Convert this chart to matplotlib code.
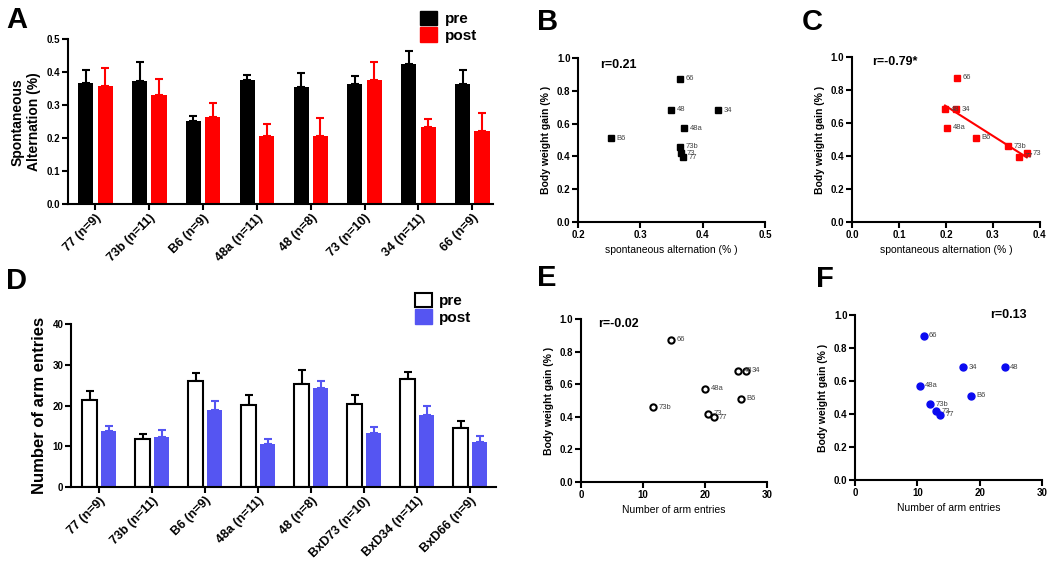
import numpy as np
import matplotlib.pyplot as plt
from matplotlib.patches import Patch

plt.rcParams['font.family'] = ['Liberation Sans', 'DejaVu Sans']

# ---- data ----
sa_groups = ['77 (n=9)', '73b (n=11)', 'B6 (n=9)', '48a (n=11)', '48 (n=8)',
             '73 (n=10)', '34 (n=11)', '66 (n=9)']
sa_pre = [0.368, 0.374, 0.253, 0.376, 0.354, 0.365, 0.425, 0.364]
sa_pre_err = [0.039, 0.056, 0.014, 0.016, 0.043, 0.023, 0.039, 0.041]
sa_post = [0.358, 0.332, 0.264, 0.206, 0.208, 0.376, 0.234, 0.221]
sa_post_err = [0.056, 0.048, 0.044, 0.036, 0.053, 0.054, 0.025, 0.056]

arm_groups = ['77 (n=9)', '73b (n=11)', 'B6 (n=9)', '48a (n=11)', '48 (n=8)',
              'BxD73 (n=10)', 'BxD34 (n=11)', 'BxD66 (n=9)']
arm_pre = [21.3, 11.7, 25.9, 20.1, 25.2, 20.3, 26.4, 14.4]
arm_pre_err = [2.3, 1.2, 2.2, 2.4, 3.5, 2.4, 1.8, 1.8]
arm_post = [13.8, 12.2, 18.9, 10.6, 24.2, 13.3, 17.6, 11.0]
arm_post_err = [1.1, 1.7, 2.1, 1.1, 1.9, 1.4, 2.2, 1.6]

# scatter: strain labels, body weight gain, x values per panel
strains = ['77', '73b', 'B6', '48a', '48', '73', '34', '66']
bw_gain = [0.396, 0.459, 0.510, 0.571, 0.684, 0.418, 0.682, 0.873]
sa_pre_sc = [0.368, 0.364, 0.253, 0.370, 0.350, 0.366, 0.425, 0.363]
sa_post_sc = [0.355, 0.332, 0.264, 0.202, 0.198, 0.372, 0.221, 0.223]
arm_pre_sc = [21.4, 11.7, 25.8, 20.1, 25.4, 20.5, 26.6, 14.5]
arm_post_sc = [13.7, 12.1, 18.6, 10.4, 24.0, 13.0, 17.4, 11.0]

RED = '#ff0000'
BLUE = '#5555f2'
DBLUE = '#0a0af0'

fig = plt.figure(figsize=(10.5, 5.64), dpi=100)


def style_axes(ax, tick_size=7):
    for s in ['top', 'right']:
        ax.spines[s].set_visible(False)
    for s in ['left', 'bottom']:
        ax.spines[s].set_linewidth(1.5)
    ax.tick_params(width=1.5, length=4, labelsize=tick_size, pad=1.5)
    for lab in ax.get_xticklabels() + ax.get_yticklabels():
        lab.set_fontweight('bold')


def bar_panel(ax, groups, pre, pre_err, post, post_err, pre_style, post_color,
              ylim, yticks, yticklabels, ylabel, ylabel_size, xlim):
    x = np.arange(len(groups))
    w = 0.28
    off = 0.18
    ax.bar(x - off, pre, w, zorder=2, **pre_style)
    ax.bar(x + off, post, w, color=post_color, zorder=2)
    ax.errorbar(x - off, pre, yerr=[np.zeros(len(pre)), pre_err], fmt='none',
                ecolor='black', elinewidth=1.5, capsize=3, capthick=1.5, zorder=1)
    ax.errorbar(x + off, post, yerr=[np.zeros(len(post)), post_err], fmt='none',
                ecolor=post_color, elinewidth=1.5, capsize=3, capthick=1.5, zorder=1)
    ax.set_xlim(*xlim)
    ax.set_ylim(*ylim)
    ax.set_yticks(yticks)
    ax.set_yticklabels(yticklabels)
    ax.set_xticks(x)
    ax.set_xticklabels(groups, rotation=45, ha='right', rotation_mode='anchor')
    ax.set_ylabel(ylabel, fontsize=ylabel_size, fontweight='bold')
    style_axes(ax)
    for lab in ax.get_xticklabels():
        lab.set_fontsize(9)


def scatter_panel(ax, xs, marker_kw, xlim, xticks, xlabel, rtext, rpos, fmt):
    ax.plot(xs, bw_gain, linestyle='none', **marker_kw)
    for xv, yv, s in zip(xs, bw_gain, strains):
        ax.annotate(s, (xv, yv), xytext=(4, 0), textcoords='offset points',
                    fontsize=5.5, color='#444444', va='center')
    ax.set_xlim(*xlim)
    ax.set_ylim(0, 1.0)
    ax.set_xticks(xticks)
    ax.set_xticklabels([fmt.format(t) for t in xticks])
    ax.set_yticks(np.arange(0, 1.01, 0.2))
    ax.set_yticklabels(['0.0', '0.2', '0.4', '0.6', '0.8', '1.0'])
    ax.set_ylabel('Body weight gain (% )', fontsize=7.5, fontweight='bold')
    ax.set_xlabel(xlabel, fontsize=7.5, labelpad=4)
    ax.text(rpos[0], rpos[1], rtext, fontsize=9, fontweight='bold',
            ha='left', va='center')
    style_axes(ax)


# ---- A ----
axA = fig.add_axes([0.0648, 0.638, 0.405, 0.2926])
bar_panel(axA, sa_groups, sa_pre, sa_pre_err, sa_post, sa_post_err,
          dict(color='black'), RED, (0, 0.5), np.arange(0, 0.51, 0.1),
          ['0.0', '0.1', '0.2', '0.3', '0.4', '0.5'],
          'Spontaneous\nAlternation (%)', 10, (-0.51, 7.39))
fig.legend(handles=[Patch(color='black', label='pre'), Patch(color=RED, label='post')],
           loc='upper left', bbox_to_anchor=(0.39, 1.0), frameon=False,
           prop=dict(size=11, weight='bold'), handlelength=1.1, handleheight=1.1,
           labelspacing=0.05, handletextpad=0.5, borderpad=0.2)

# ---- D ----
axD = fig.add_axes([0.0676, 0.1365, 0.405, 0.289])
bar_panel(axD, arm_groups, arm_pre, arm_pre_err, arm_post, arm_post_err,
          dict(color='white', edgecolor='black', linewidth=1.5), BLUE,
          (0, 40), np.arange(0, 41, 10), ['0', '10', '20', '30', '40'],
          'Number of arm entries', 12, (-0.53, 7.49))
fig.legend(handles=[Patch(facecolor='white', edgecolor='black', linewidth=1.5, label='pre'),
                    Patch(color=BLUE, label='post')],
           loc='upper left', bbox_to_anchor=(0.385, 0.5), frameon=False,
           prop=dict(size=11, weight='bold'), handlelength=1.1, handleheight=1.1,
           labelspacing=0.05, handletextpad=0.5, borderpad=0.2)

# ---- B ----
axB = fig.add_axes([0.5505, 0.6064, 0.178, 0.2908])
scatter_panel(axB, sa_pre_sc, dict(marker='s', color='black', markersize=5),
              (0.2, 0.5), [0.2, 0.3, 0.4, 0.5], 'spontaneous alternation (% )',
              'r=0.21', (0.236, 0.96), '{:.1f}')

# ---- C ----
axC = fig.add_axes([0.8114, 0.6064, 0.179, 0.2926])
scatter_panel(axC, sa_post_sc, dict(marker='s', color=RED, markersize=5),
              (0, 0.4), [0.0, 0.1, 0.2, 0.3, 0.4], 'spontaneous alternation (% )',
              'r=-0.79*', (0.042, 0.97), '{:.1f}')
coef = np.polyfit(sa_post_sc, bw_gain, 1)
xfit = np.array([min(sa_post_sc), max(sa_post_sc)])
axC.plot(xfit, np.polyval(coef, xfit), color=RED, linewidth=1.5)

# ---- E ----
axE = fig.add_axes([0.5533, 0.1454, 0.177, 0.289])
scatter_panel(axE, arm_pre_sc, dict(marker='o', markerfacecolor='white',
                                    markeredgecolor='black', markeredgewidth=1.5,
                                    markersize=4.5),
              (0, 30), [0, 10, 20, 30], 'Number of arm entries',
              'r=-0.02', (2.8, 0.97), '{:d}')

# ---- F ----
axF = fig.add_axes([0.8143, 0.1489, 0.178, 0.2926])
scatter_panel(axF, arm_post_sc, dict(marker='o', color=DBLUE, markersize=5),
              (0, 30), [0, 10, 20, 30], 'Number of arm entries',
              'r=0.13', (21.7, 1.0), '{:d}')

# ---- panel letters ----
letters = [('A', 0.006, 0.99), ('B', 0.511, 0.985), ('C', 0.764, 0.985),
           ('D', 0.006, 0.527), ('E', 0.511, 0.532), ('F', 0.777, 0.53)]
for lt, xf, yf in letters:
    fig.text(xf, yf, lt, fontsize=21, fontweight='bold', ha='left', va='top')

plt.savefig('out.png', dpi=100)
